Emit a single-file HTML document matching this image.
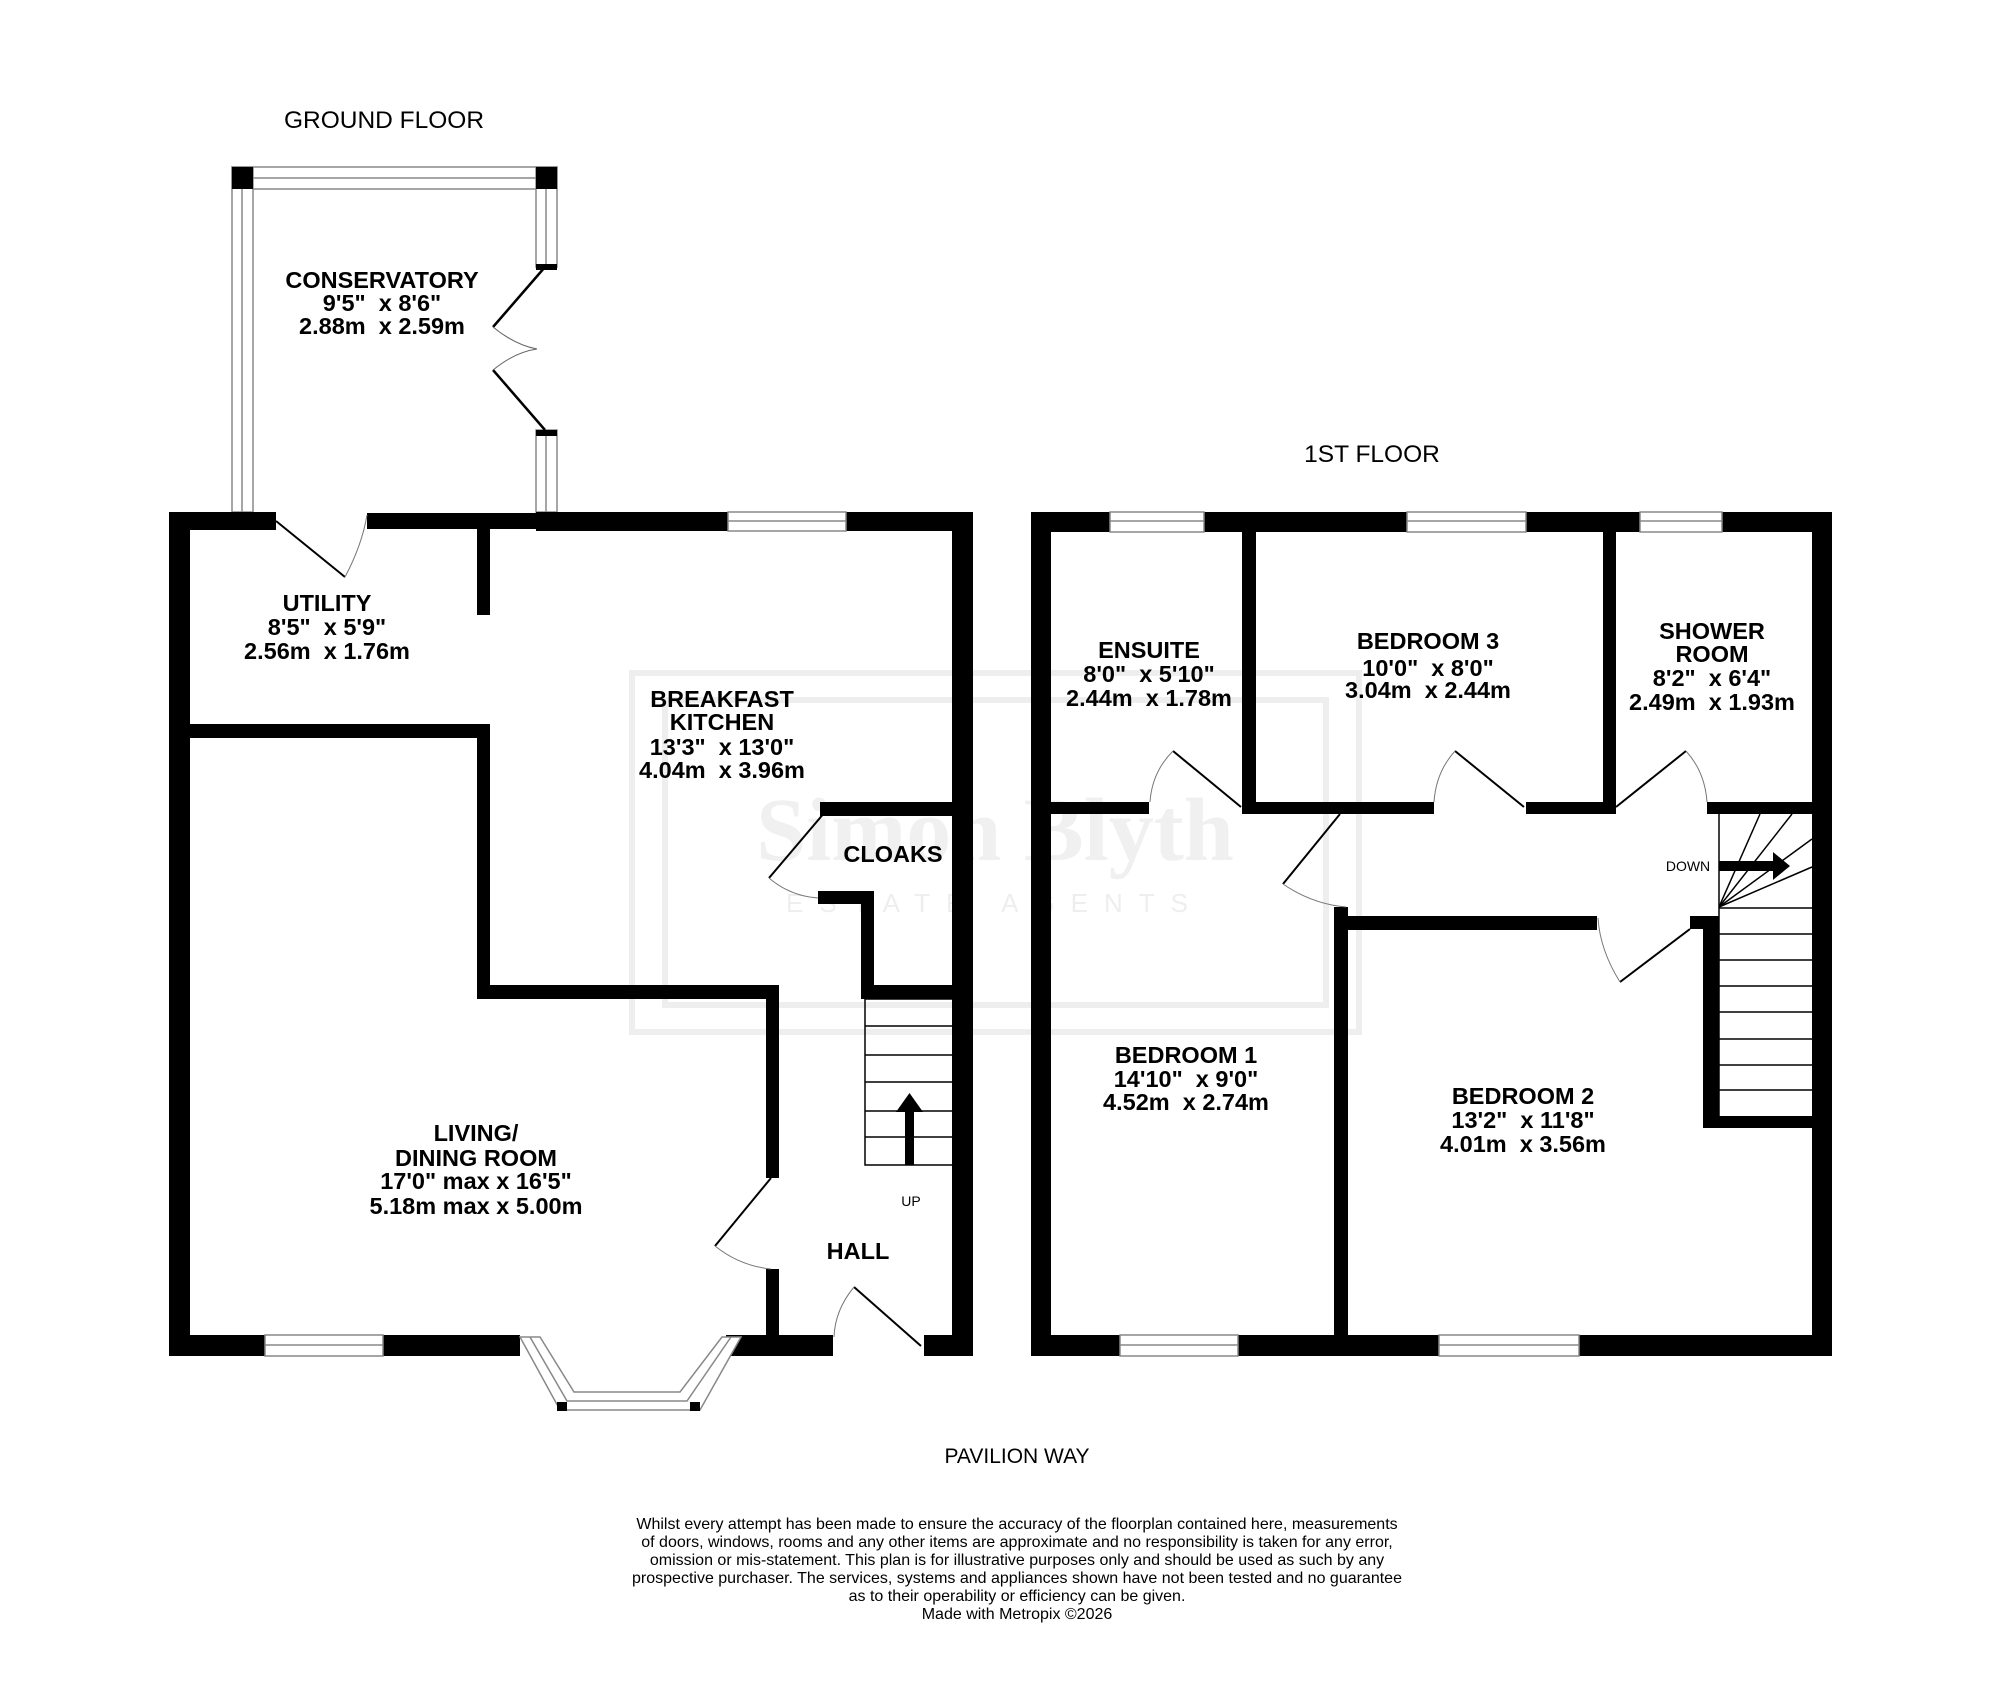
<!DOCTYPE html>
<html><head><meta charset="utf-8"><style>
html,body{margin:0;padding:0;background:#fff}
svg{display:block}
text{font-family:"Liberation Sans",sans-serif;fill:#000;white-space:pre}
.b{font-weight:bold;font-size:23.5px;text-anchor:middle}
.t{font-size:24.5px;text-anchor:middle}
.s{font-size:14px;text-anchor:middle}
.d{font-size:16px;text-anchor:middle}
</style></head><body>
<svg width="2000" height="1702" viewBox="0 0 2000 1702" xmlns="http://www.w3.org/2000/svg" xml:space="preserve">
<g fill="none" stroke="#eee" stroke-width="6">
<rect x="632" y="673" width="727" height="359"/>
<rect x="665" y="700" width="661" height="305"/>
</g>
<text x="995" y="860" style="font-family:'Liberation Serif',serif;font-size:90px;fill:#f0f0f0;font-weight:bold" text-anchor="middle">Simon Blyth</text>
<text x="995" y="912" style="font-size:26px;fill:#eee;letter-spacing:16px" text-anchor="middle">ESTATE AGENTS</text>

<text class="t" x="384" y="128">GROUND FLOOR</text>
<text class="t" x="1372" y="462">1ST FLOOR</text>

<g fill="#fff" stroke="#888" stroke-width="1.5">
<rect x="232" y="167" width="325" height="22"/>
<line x1="232" y1="178" x2="557" y2="178"/>
<rect x="232" y="167" width="21" height="345"/>
<line x1="242" y1="167" x2="242" y2="512"/>
<rect x="536" y="167" width="21" height="100"/>
<line x1="546" y1="167" x2="546" y2="267"/>
<rect x="536" y="430" width="21" height="82"/>
<line x1="546" y1="430" x2="546" y2="512"/>
</g>
<rect x="232" y="167" width="21" height="22" fill="#000"/>
<rect x="536" y="167" width="21" height="22" fill="#000"/>
<rect x="536" y="264" width="21" height="6" fill="#000"/>
<rect x="536" y="430" width="21" height="6" fill="#000"/>
<g stroke="#000" stroke-width="2.5" fill="none">
<line x1="545" y1="267" x2="493" y2="327"/>
<line x1="545" y1="430" x2="493" y2="370"/>
</g>
<g stroke="#666" stroke-width="1" fill="none">
<path d="M493 327 Q515 345 537 349"/>
<path d="M493 370 Q515 352 537 349"/>
</g>

<g fill="#000">
<rect x="169" y="512" width="21" height="844"/>
<rect x="169" y="512" width="107" height="18"/>
<rect x="367" y="513" width="169" height="16"/>
<rect x="536" y="512" width="192" height="19"/>
<rect x="846" y="512" width="127" height="19"/>
<rect x="952" y="512" width="21" height="844"/>
<rect x="477" y="527" width="13" height="88"/>
<rect x="190" y="724" width="300" height="14"/>
<rect x="477" y="724" width="13" height="275"/>
<rect x="477" y="985" width="302" height="14"/>
<rect x="766" y="985" width="13" height="193"/>
<rect x="766" y="1269" width="13" height="87"/>
<rect x="820" y="802" width="133" height="14"/>
<rect x="818" y="891" width="56" height="13"/>
<rect x="861" y="891" width="13" height="108"/>
<rect x="861" y="985" width="92" height="14"/>
<rect x="169" y="1335" width="96" height="21"/>
<rect x="383" y="1335" width="137" height="21"/>
<rect x="726" y="1335" width="107" height="21"/>
<rect x="924" y="1335" width="49" height="21"/>
</g>
<g fill="#fff" stroke="#888" stroke-width="1.5">
<rect x="728" y="512" width="118" height="19"/><line x1="728" y1="521" x2="846" y2="521"/>
<rect x="265" y="1335" width="118" height="21"/><line x1="265" y1="1345" x2="383" y2="1345"/>
</g>
<g fill="none" stroke="#888" stroke-width="1.5">
<polygon points="520,1337 540,1337 574,1392 680,1392 722,1337 741,1337 700,1410 560,1410" fill="#fff"/>
<polyline points="530,1337 567,1401 687,1401 731,1337"/>
</g>
<rect x="557" y="1402" width="10" height="9" fill="#000"/>
<rect x="690" y="1402" width="10" height="9" fill="#000"/>
<g stroke="#000" stroke-width="1.5" fill="none">
<rect x="865" y="999" width="88" height="166"/>
<line x1="865" y1="1026" x2="953" y2="1026"/>
<line x1="865" y1="1055" x2="953" y2="1055"/>
<line x1="865" y1="1082" x2="953" y2="1082"/>
<line x1="865" y1="1111" x2="953" y2="1111"/>
<line x1="865" y1="1137" x2="953" y2="1137"/>
</g>
<rect x="905" y="1110" width="9" height="55" fill="#000"/>
<polygon points="896,1112 923,1112 909.5,1093" fill="#000"/>
<text class="s" x="911" y="1206">UP</text>
<g stroke="#000" stroke-width="2" fill="none">
<line x1="276" y1="521" x2="345" y2="577"/>
<line x1="771" y1="1178" x2="715" y2="1246"/>
<line x1="825" y1="812" x2="769" y2="878"/>
<line x1="854" y1="1287" x2="921" y2="1346"/>
</g>
<g stroke="#777" stroke-width="1" fill="none">
<path d="M345 577 Q362 545 367 515"/>
<path d="M715 1246 Q740 1266 771 1269"/>
<path d="M769 878 Q790 896 818 898"/>
<path d="M854 1287 Q835 1310 834 1337"/>
</g>

<g fill="#000">
<rect x="1031" y="512" width="20" height="844"/>
<rect x="1031" y="512" width="79" height="20"/>
<rect x="1204" y="512" width="203" height="20"/>
<rect x="1526" y="512" width="114" height="20"/>
<rect x="1722" y="512" width="110" height="20"/>
<rect x="1812" y="512" width="20" height="844"/>
<rect x="1242" y="532" width="14" height="282"/>
<rect x="1603" y="532" width="13" height="282"/>
<rect x="1047" y="802" width="102" height="12"/>
<rect x="1242" y="802" width="192" height="12"/>
<rect x="1526" y="802" width="90" height="12"/>
<rect x="1707" y="802" width="125" height="12"/>
<rect x="1334" y="907" width="14" height="449"/>
<rect x="1334" y="916" width="263" height="14"/>
<rect x="1690" y="916" width="26" height="13"/>
<rect x="1703" y="916" width="16" height="212"/>
<rect x="1703" y="1116" width="129" height="12"/>
<rect x="1031" y="1335" width="89" height="21"/>
<rect x="1238" y="1335" width="201" height="21"/>
<rect x="1579" y="1335" width="253" height="21"/>
</g>
<g fill="#fff" stroke="#888" stroke-width="1.5">
<rect x="1110" y="512" width="94" height="20"/><line x1="1110" y1="521" x2="1204" y2="521"/>
<rect x="1407" y="512" width="119" height="20"/><line x1="1407" y1="521" x2="1526" y2="521"/>
<rect x="1640" y="512" width="82" height="20"/><line x1="1640" y1="521" x2="1722" y2="521"/>
<rect x="1120" y="1335" width="118" height="21"/><line x1="1120" y1="1345" x2="1238" y2="1345"/>
<rect x="1439" y="1335" width="140" height="21"/><line x1="1439" y1="1345" x2="1579" y2="1345"/>
</g>
<g stroke="#000" stroke-width="1.5" fill="none">
<line x1="1719" y1="814" x2="1719" y2="1116"/>
<line x1="1719" y1="908" x2="1812" y2="908"/>
<line x1="1719" y1="934" x2="1812" y2="934"/>
<line x1="1719" y1="960" x2="1812" y2="960"/>
<line x1="1719" y1="986" x2="1812" y2="986"/>
<line x1="1719" y1="1012" x2="1812" y2="1012"/>
<line x1="1719" y1="1039" x2="1812" y2="1039"/>
<line x1="1719" y1="1065" x2="1812" y2="1065"/>
<line x1="1719" y1="1090" x2="1812" y2="1090"/>
<line x1="1719" y1="907" x2="1760" y2="814"/>
<line x1="1719" y1="907" x2="1792" y2="814"/>
<line x1="1719" y1="907" x2="1812" y2="839"/>
<line x1="1719" y1="907" x2="1812" y2="867"/>
</g>
<rect x="1719" y="861" width="56" height="10" fill="#000"/>
<polygon points="1773,852 1773,880 1790,866" fill="#000"/>
<text class="s" x="1688" y="871">DOWN</text>
<g stroke="#000" stroke-width="2" fill="none">
<line x1="1173" y1="751" x2="1241" y2="807"/>
<line x1="1455" y1="751" x2="1524" y2="807"/>
<line x1="1686" y1="751" x2="1616" y2="807"/>
<line x1="1340" y1="814" x2="1283" y2="884"/>
<line x1="1690" y1="929" x2="1620" y2="982"/>
</g>
<g stroke="#777" stroke-width="1" fill="none">
<path d="M1173 751 Q1152 772 1150 802"/>
<path d="M1455 751 Q1436 772 1434 802"/>
<path d="M1686 751 Q1705 772 1707 802"/>
<path d="M1283 884 Q1312 904 1346 907"/>
<path d="M1620 982 Q1600 950 1598 918"/>
</g>

<text class="b" x="382" y="288">CONSERVATORY</text>
<text class="b" x="382" y="311">9'5"  x 8'6"</text>
<text class="b" x="382" y="334">2.88m  x 2.59m</text>
<text class="b" x="327" y="611">UTILITY</text>
<text class="b" x="327" y="635">8'5"  x 5'9"</text>
<text class="b" x="327" y="659">2.56m  x 1.76m</text>
<text class="b" x="722" y="707">BREAKFAST</text>
<text class="b" x="722" y="730">KITCHEN</text>
<text class="b" x="722" y="755">13'3"  x 13'0"</text>
<text class="b" x="722" y="778">4.04m  x 3.96m</text>
<text class="b" x="893" y="862">CLOAKS</text>
<text class="b" x="476" y="1141">LIVING/</text>
<text class="b" x="476" y="1166">DINING ROOM</text>
<text class="b" x="476" y="1189">17'0" max x 16'5"</text>
<text class="b" x="476" y="1214">5.18m max x 5.00m</text>
<text class="b" x="858" y="1259">HALL</text>

<text class="b" x="1149" y="658">ENSUITE</text>
<text class="b" x="1149" y="682">8'0"  x 5'10"</text>
<text class="b" x="1149" y="706">2.44m  x 1.78m</text>
<text class="b" x="1428" y="649">BEDROOM 3</text>
<text class="b" x="1428" y="676">10'0"  x 8'0"</text>
<text class="b" x="1428" y="698">3.04m  x 2.44m</text>
<text class="b" x="1712" y="639">SHOWER</text>
<text class="b" x="1712" y="662">ROOM</text>
<text class="b" x="1712" y="686">8'2"  x 6'4"</text>
<text class="b" x="1712" y="710">2.49m  x 1.93m</text>
<text class="b" x="1186" y="1063">BEDROOM 1</text>
<text class="b" x="1186" y="1087">14'10"  x 9'0"</text>
<text class="b" x="1186" y="1110">4.52m  x 2.74m</text>
<text class="b" x="1523" y="1104">BEDROOM 2</text>
<text class="b" x="1523" y="1128">13'2"  x 11'8"</text>
<text class="b" x="1523" y="1152">4.01m  x 3.56m</text>

<text class="t" x="1017" y="1463" style="font-size:21px">PAVILION WAY</text>
<text class="d" x="1017" y="1529">Whilst every attempt has been made to ensure the accuracy of the floorplan contained here, measurements</text>
<text class="d" x="1017" y="1547">of doors, windows, rooms and any other items are approximate and no responsibility is taken for any error,</text>
<text class="d" x="1017" y="1565">omission or mis-statement. This plan is for illustrative purposes only and should be used as such by any</text>
<text class="d" x="1017" y="1583">prospective purchaser. The services, systems and appliances shown have not been tested and no guarantee</text>
<text class="d" x="1017" y="1601">as to their operability or efficiency can be given.</text>
<text class="d" x="1017" y="1619">Made with Metropix ©2026</text>
</svg>
</body></html>
